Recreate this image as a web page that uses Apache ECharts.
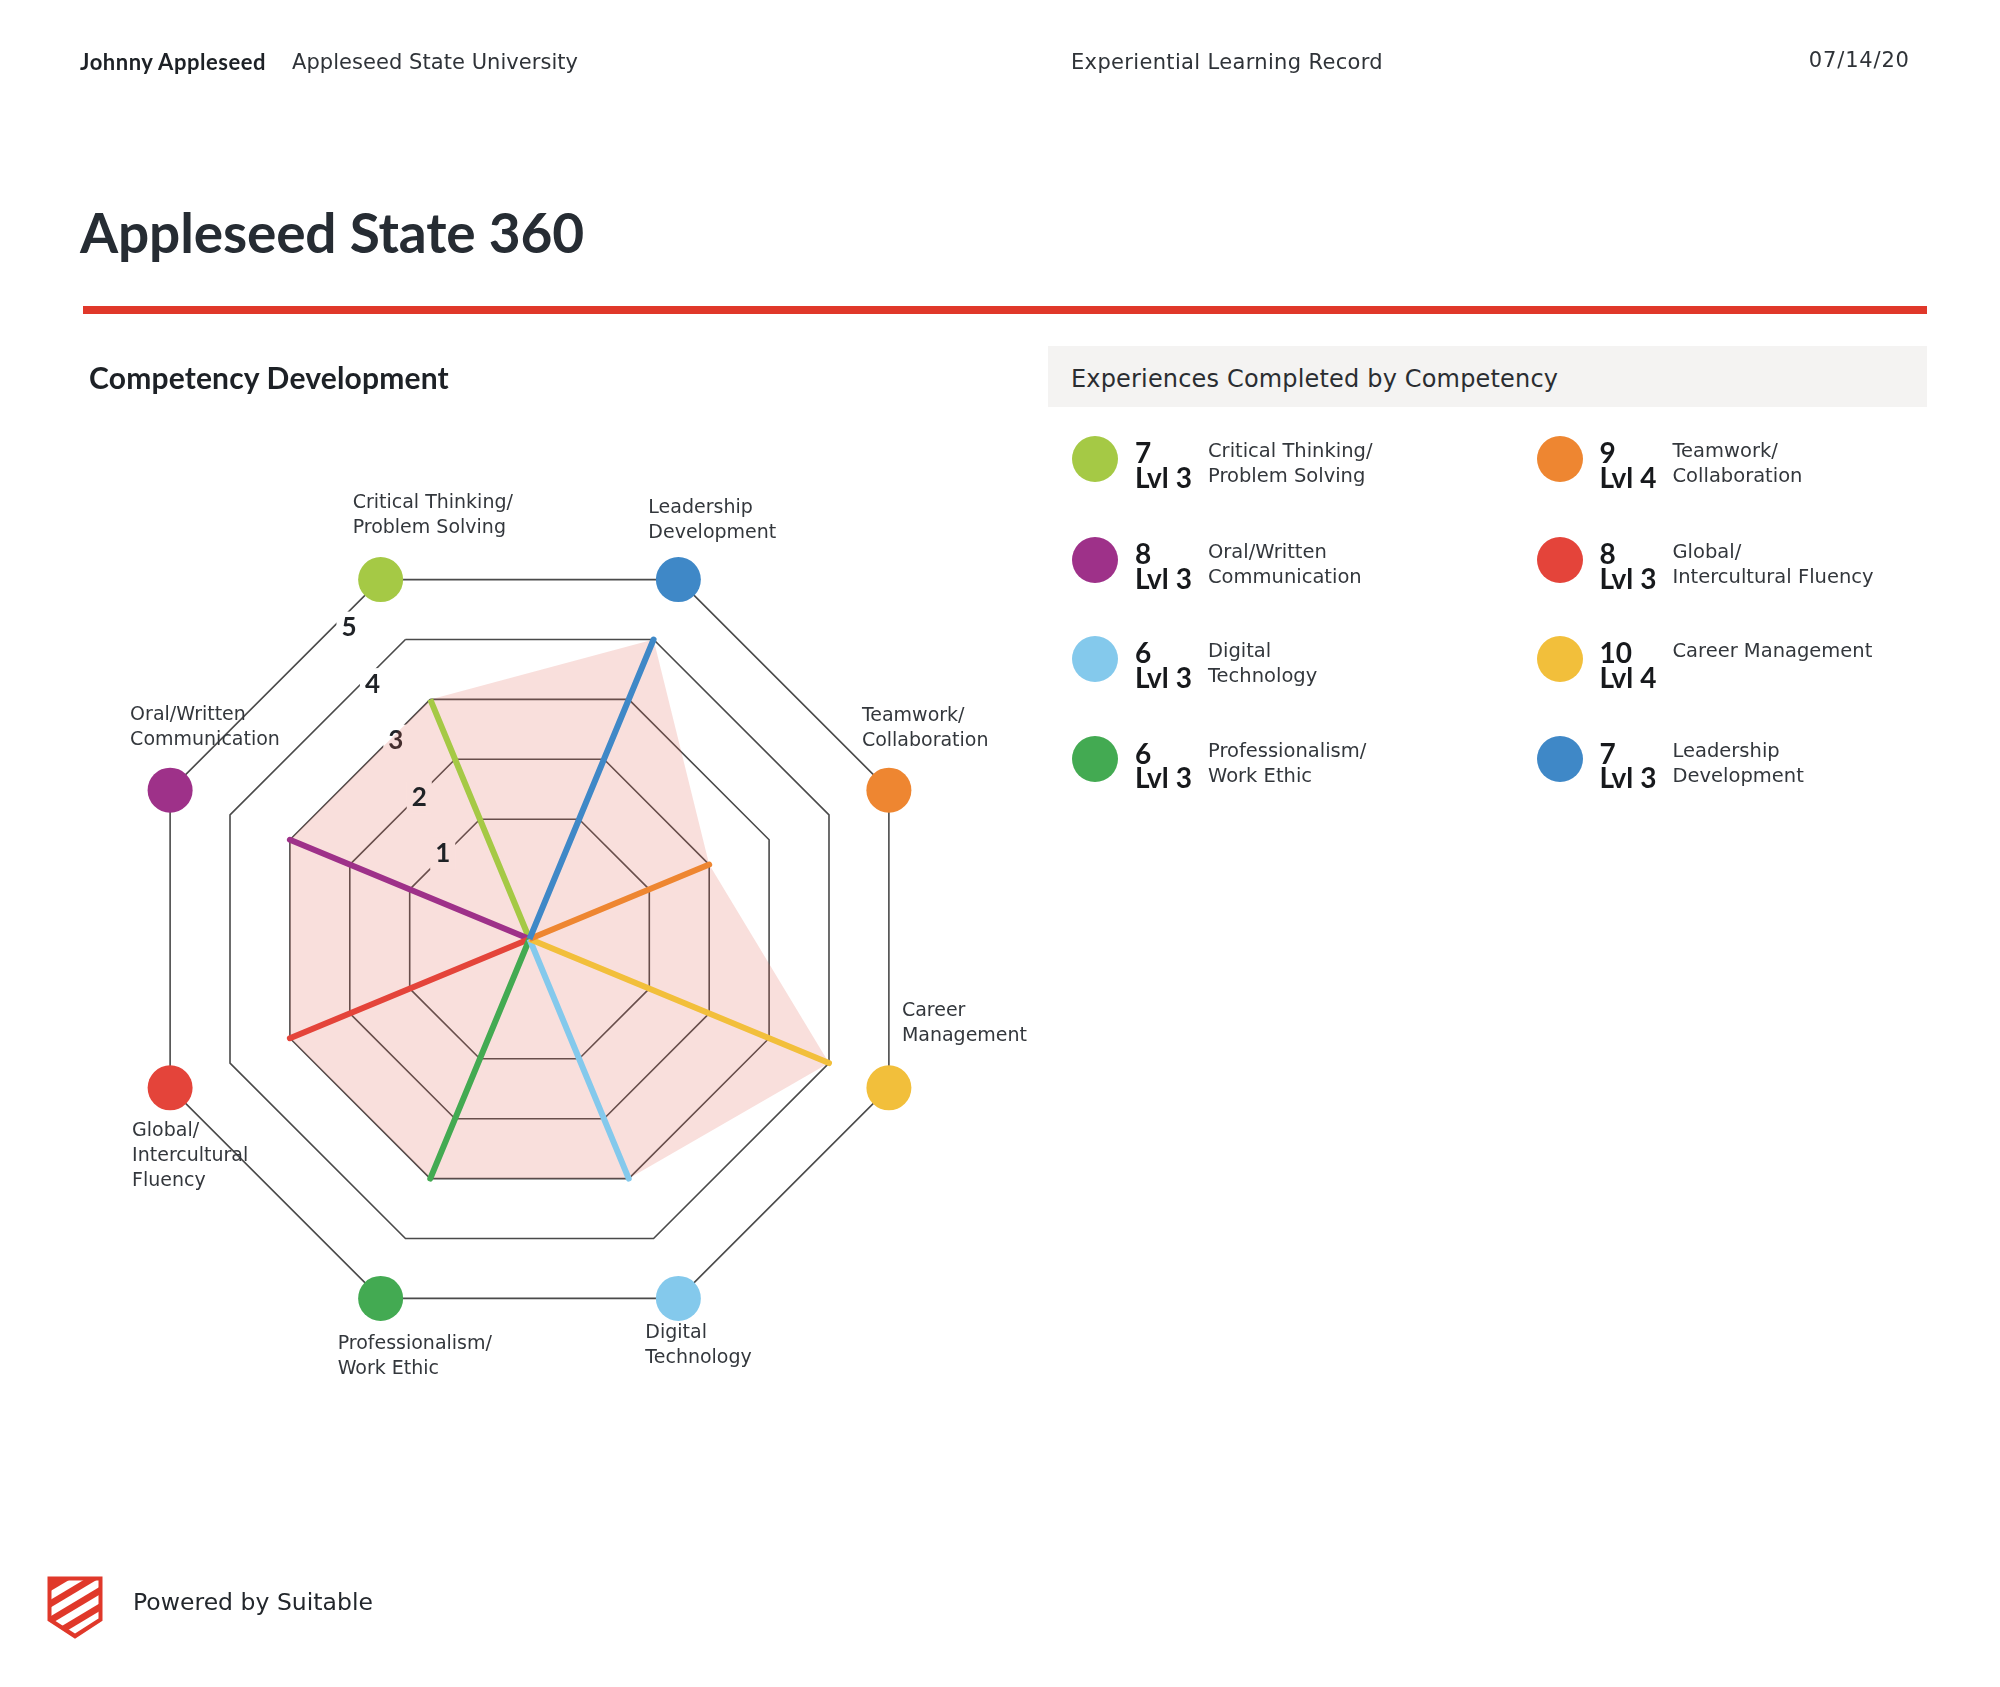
<!DOCTYPE html>
<html>
<head>
<meta charset="utf-8">
<script src="https://cdn.jsdelivr.net/npm/echarts@6/dist/echarts.min.js"></script>
<style>
html,body{margin:0;padding:0;background:#fff;}
body{width:2000px;height:1687px;position:relative;overflow:hidden;font-family:"DejaVu Sans",sans-serif;color:#2f3338;}
#chart{position:absolute;left:0;top:0;width:2000px;height:1687px;}
.t{position:absolute;white-space:nowrap;}
.b{font-family:Lato,"DejaVu Sans",sans-serif;font-weight:700;}
.dot{position:absolute;width:46px;height:46px;border-radius:50%;}
.num{position:absolute;font-family:Lato,sans-serif;font-weight:700;font-size:28px;line-height:24.5px;color:#17191c;white-space:nowrap;}
.nm{position:absolute;font-size:19.5px;line-height:25px;color:#33373c;white-space:pre;}
</style>
</head>
<body>
<div id="chart"></div>

<div class="t b fit" data-w="186" style="left:80px;top:49px;font-size:22px;line-height:26px;color:#1d2126">Johnny Appleseed</div>
<div class="t fit" data-w="286" style="left:292px;top:49px;font-size:21px;line-height:26px;">Appleseed State University</div>
<div class="t fit" data-w="312" style="left:1071px;top:49px;font-size:21px;line-height:26px;">Experiential Learning Record</div>
<div class="t fit" data-w="101" data-r="1909" style="top:47px;font-size:21px;line-height:26px;">07/14/20</div>

<div class="t b fit" data-w="504" style="left:80px;top:205px;font-size:55px;line-height:55px;color:#262c33">Appleseed State 360</div>
<div style="position:absolute;left:83px;top:306px;width:1844px;height:8px;background:#e0382a;"></div>

<div class="t b fit" data-w="360" style="left:89px;top:362px;font-size:30px;line-height:31px;color:#1d2126">Competency Development</div>

<div style="position:absolute;left:1048px;top:346px;width:879px;height:61px;background:#f4f3f2;"></div>
<div class="t fit" data-w="487" style="left:1071px;top:364px;font-size:24px;line-height:30px;color:#2a2d31">Experiences Completed by Competency</div>

<div id="list"></div>

<svg style="position:absolute;left:44px;top:1575px" width="62" height="66" viewBox="0 0 62 66">
  <defs>
    <clipPath id="inner"><path d="M7.5,5.5 H54.5 V43.5 L31,58.5 L7.5,43.5 Z"/></clipPath>
  </defs>
  <path d="M5,3 H57 V45 L31,62 L5,45 Z" fill="#e0382a" stroke="#e0382a" stroke-width="3" stroke-linejoin="miter"/>
  <g clip-path="url(#inner)" stroke="#ffffff" stroke-width="7.5">
    <line x1="-10" y1="30.4" x2="70" y2="-17.6"/>
    <line x1="-10" y1="46.9" x2="70" y2="-1.1"/>
    <line x1="-10" y1="63.4" x2="70" y2="15.4"/>
    <line x1="-10" y1="79.9" x2="70" y2="31.9"/>
  </g>
</svg>
<div class="t fit" data-w="240" style="left:133px;top:1587px;font-size:23.5px;line-height:30px;color:#23272c">Powered by Suitable</div>

<script>
// ---------------- DATA ----------------
// Radar axes, counter-clockwise starting at the upper-left vertex
const radarAxes = ['Critical Thinking/\nProblem Solving', 'Oral/Written\nCommunication', 'Global/\nIntercultural\nFluency',
  'Professionalism/\nWork Ethic', 'Digital\nTechnology', 'Career\nManagement', 'Teamwork/\nCollaboration', 'Leadership\nDevelopment'];
const radarValues = [3, 3, 3, 3, 3, 4, 2, 4];
const radarColors = ['#a5c945', '#9e3189', '#e4443a', '#43aa52', '#84c9ec', '#f2bf3b', '#ee8631', '#3f88c7'];
const tickLabels = ['1', '2', '3', '4', '5'];
const levelMin = -1;   // centre of the web
const levelMax = 5;

// Experiences list (two columns, top to bottom)
const listNames = ['Critical Thinking/\nProblem Solving', 'Oral/Written\nCommunication', 'Digital\nTechnology', 'Professionalism/\nWork Ethic',
  'Teamwork/\nCollaboration', 'Global/\nIntercultural Fluency', 'Career Management', 'Leadership\nDevelopment'];
const listCounts = [7, 8, 6, 6, 9, 8, 10, 7];
const listLevels = [3, 3, 3, 3, 4, 3, 4, 3];
const listColors = ['#a5c945', '#9e3189', '#84c9ec', '#43aa52', '#ee8631', '#e4443a', '#f2bf3b', '#3f88c7'];

// ---------------- LIST ----------------
(function () {
  const host = document.getElementById('list');
  const colX = [1095, 1559.5];
  const rowY = [458.5, 559.5, 658.5, 759];
  let html = '';
  listNames.forEach(function (name, i) {
    const c = i < 4 ? 0 : 1, r = i % 4;
    const cx = colX[c], cy = rowY[r];
    html += '<div class="dot" style="left:' + (cx - 23) + 'px;top:' + (cy - 23) + 'px;background:' + listColors[i] + '"></div>';
    html += '<div class="num" style="left:' + (cx + 40) + 'px;top:' + (cy - 18.5) + 'px">' + listCounts[i] + '<br>Lvl ' + listLevels[i] + '</div>';
    html += '<div class="nm" style="left:' + (cx + 113) + 'px;top:' + (cy - 21) + 'px">' + name + '</div>';
  });
  host.innerHTML = html;
})();

// fit text widths
document.querySelectorAll('.fit').forEach(function (el) {
  const target = parseFloat(el.getAttribute('data-w'));
  const n = el.textContent.length;
  const w = el.getBoundingClientRect().width;
  const ls = (target - w) / n;
  el.style.letterSpacing = ls.toFixed(2) + 'px';
  if (el.hasAttribute('data-r')) {
    const w2 = el.getBoundingClientRect().width;
    el.style.left = (parseFloat(el.getAttribute('data-r')) - w2 + ls) + 'px';
  }
});

// ---------------- CHART ----------------
const chart = echarts.init(document.getElementById('chart'), null, { renderer: 'canvas' });
const CENTER = [529.5, 939];
const R = 389;
const FONT = '"DejaVu Sans", sans-serif';
const ringColor = '#4a4a4a';
const areaColor = 'rgba(225,95,80,0.2)';
const areaOnWhite = 'rgb(249,223,220)';
const nameOffsets = [[-28, -64], [-40, -63], [-38, 68], [-43, 58], [-33, 47], [13, -64], [-27, -62], [-30, -59]];

// level-number track: a hidden radar whose first axis carries the numbers
function labelRadar(levels, bg, z) {
  return {
    center: CENTER, radius: 352, startAngle: 112.5, splitNumber: 23, shape: 'polygon', z: z,
    indicator: radarAxes.map(function (n, i) {
      return {
        name: n, min: -0.75, max: levelMax,
        axisLabel: i === 0 ? {
          show: true, margin: 36,
          formatter: function (v) {
            const k = Math.round(v);
            return (Math.abs(v - k) < 1e-6 && levels.indexOf(k) >= 0) ? '{t|' + tickLabels[k - 1] + '}' : '';
          },
          rich: { t: { backgroundColor: bg, padding: [3, 5], fontSize: 26, fontWeight: 'bold', color: '#1f2226', fontFamily: 'Lato, sans-serif' } }
        } : { show: false }
      };
    }),
    axisName: { show: false },
    axisLine: { show: false }, axisTick: { show: false }, axisLabel: { show: false },
    splitLine: { show: false }, splitArea: { show: false }
  };
}

const option = {
  animation: false,
  radar: [
    {
      center: CENTER, radius: R, startAngle: 112.5, splitNumber: 6, shape: 'polygon', z: 0,
      indicator: radarAxes.map(function (n) { return { name: n, min: levelMin, max: levelMax }; }),
      axisName: { show: false },
      axisLine: { show: false }, axisTick: { show: false }, axisLabel: { show: false },
      splitArea: { show: false },
      splitLine: { lineStyle: { color: ['rgba(0,0,0,0)', 'rgba(0,0,0,0)', ringColor, ringColor, ringColor, ringColor, ringColor], width: 1.6 } }
    },
    labelRadar([3, 4, 5], '#ffffff', 0.5),
    labelRadar([1, 2], areaOnWhite, 2.5)
  ],
  polar: { center: CENTER, radius: R },
  angleAxis: {
    type: 'category', data: radarAxes, startAngle: 112.5, clockwise: false, boundaryGap: false,
    axisLine: { show: false }, axisTick: { show: false }, axisLabel: { show: false }, splitLine: { show: false }
  },
  radiusAxis: {
    min: levelMin, max: levelMax,
    axisLine: { show: false }, axisTick: { show: false }, axisLabel: { show: false }, splitLine: { show: false }
  },
  series: [
    {
      type: 'radar', radarIndex: 0, z: 2, symbol: 'none', silent: true,
      lineStyle: { width: 0, opacity: 0 },
      areaStyle: { color: areaColor, opacity: 1 },
      data: [{ value: radarValues }]
    },
    {
      type: 'radar', radarIndex: 0, z: 3, symbol: 'none', silent: true,
      data: radarValues.map(function (v, i) {
        return {
          value: radarValues.map(function (_, j) { return j === i ? v : levelMin; }),
          lineStyle: { color: radarColors[i], width: 6, opacity: 1 }
        };
      })
    },
    {
      type: 'scatter', coordinateSystem: 'polar', z: 4, symbolSize: 45, silent: true,
      data: radarAxes.map(function (n, i) {
        return {
          name: n, value: [levelMax, i],
          itemStyle: { color: radarColors[i], opacity: 1 },
          label: { offset: nameOffsets[i] }
        };
      }),
      label: {
        show: true, formatter: '{b}', position: 'inside', align: 'left', verticalAlign: 'middle',
        fontSize: 19, lineHeight: 25, color: '#33373c', fontFamily: FONT
      }
    }
  ]
};
chart.setOption(option);
</script>
</body>
</html>
